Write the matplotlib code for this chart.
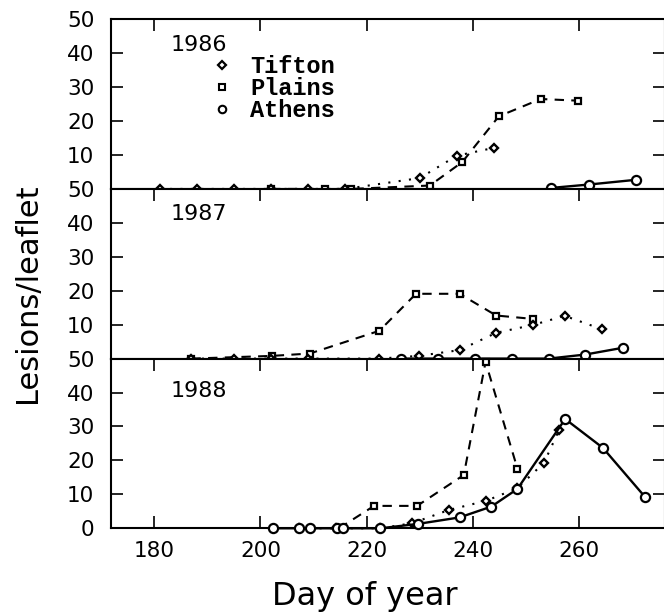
import numpy as np
import matplotlib
matplotlib.use('Agg')
import matplotlib.pyplot as plt
from matplotlib.lines import Line2D

# Lesions per leaflet at three Georgia sites, one panel per season
years = ['1986', '1987', '1988']

tifton_day = [
    [181, 188, 195, 202, 209, 216, 230, 237, 244],
    [187, 195, 202, 209, 222.4, 229.8, 237.5, 244.4, 251.3, 257.3, 264.4],
    [207.2, 214.2, 222.6, 228.6, 235.5, 242.5, 248.4, 253.4, 256.3],
]
tifton_val = [
    [0, 0, 0, 0, 0, 0, 3.2, 9.8, 12.1],
    [0, 0, 0, 0, 0, 0.8, 2.5, 7.6, 9.9, 12.6, 8.6],
    [0, 0, 0, 1.5, 5.4, 8.1, 11.8, 19.3, 29.1],
]

plains_day = [
    [202, 212.2, 217.1, 231.9, 238.0, 244.9, 252.8, 259.9],
    [187, 202.2, 209.3, 222.4, 229.3, 237.5, 244.4, 251.3],
    [214.8, 221.4, 229.5, 238.3, 242.4, 248.4],
]
plains_val = [
    [0, 0, 0, 1.0, 7.9, 21.4, 26.5, 26.0],
    [0, 0.8, 1.5, 8.2, 19.1, 19.1, 12.7, 11.7],
    [0, 6.6, 6.6, 15.7, 49.0, 17.6],
]

athens_day = [
    [254.8, 261.9, 270.8],
    [226.5, 233.5, 240.4, 247.3, 254.3, 261.2, 268.3],
    [202.4, 207.2, 209.3, 214.4, 215.5, 222.6, 229.7, 237.5, 243.5, 248.4,
     257.4, 264.5, 272.4],
]
athens_val = [
    [0.3, 1.3, 2.7],
    [0, 0, 0, 0, 0, 1.2, 3.2],
    [0, 0, 0, 0, 0, 0, 1.3, 3.2, 6.4, 11.6, 32.2, 23.7, 9.3],
]

xticks = [180, 200, 220, 240, 260]

plt.rcParams['font.family'] = ['DejaVu Sans']

fig = plt.figure(figsize=(6.64, 6.15), dpi=100)
left = 0.1672
width = 1.0015 - left
bottom, h = 0.141, 0.2759

axes = []
for i in range(3):
    y0 = bottom + (2 - i) * h
    ax = fig.add_axes([left, y0, width, h], sharex=axes[0] if axes else None)
    axes.append(ax)

label_y = [0.905, 0.912, 0.868]

for i, ax in enumerate(axes):
    ax.plot(tifton_day[i], tifton_val[i], color='black', lw=1.5,
            dashes=(1, 4), marker='D', ms=4.2, mfc='white', mec='black',
            mew=1.7, clip_on=False, zorder=4)
    ax.plot(plains_day[i], plains_val[i], color='black', lw=1.5,
            dashes=(4.5, 3.5), marker='s', ms=4.8, mfc='white', mec='black',
            mew=1.6, clip_on=False, zorder=3)
    ax.plot(athens_day[i], athens_val[i], color='black', lw=1.7,
            ls='-', marker='o', ms=6.6, mfc='white', mec='black',
            mew=1.6, clip_on=False, zorder=5)

    ax.set_xlim(171.85, 276.2)
    ax.set_ylim(0, 50)
    ax.set_xticks(xticks)
    if i < 2:
        ax.set_yticks([10, 20, 30, 40, 50])
        ax.tick_params(axis='x', labelbottom=False, bottom=False)
    else:
        ax.set_yticks([0, 10, 20, 30, 40, 50])
    ax.tick_params(direction='in', length=8.6, width=1.2, top=True,
                   right=True, labelsize=15.5, pad=12)
    ax.tick_params(axis='x', pad=9)
    for s in ax.spines.values():
        s.set_linewidth(1.5)

    ax.text(0.108, label_y[i], years[i], transform=ax.transAxes,
            fontsize=16, va='top', ha='left')

# site key in the top panel
handles = [
    Line2D([], [], ls='none', marker='D', ms=4.0, mfc='white', mec='black', mew=1.6),
    Line2D([], [], ls='none', marker='s', ms=4.4, mfc='white', mec='black', mew=1.5),
    Line2D([], [], ls='none', marker='o', ms=5.4, mfc='white', mec='black', mew=1.5),
]
axes[0].legend(handles, ['Tifton', 'Plains', 'Athens'], loc='upper left',
               bbox_to_anchor=(0.158, 0.857), frameon=False, handlelength=1.0,
               handletextpad=0.7, labelspacing=-0.05, borderpad=0,
               prop={'family': 'Liberation Mono', 'weight': 'bold', 'size': 17})

fig.text(365 / 664, 1 - 581 / 615, 'Day of year', fontsize=23,
         ha='center', va='top')
fig.text(28 / 664, 1 - 293.5 / 615, 'Lesions/leaflet', fontsize=22,
         rotation=90, ha='center', va='center')

fig.savefig('out.png', dpi=100)
